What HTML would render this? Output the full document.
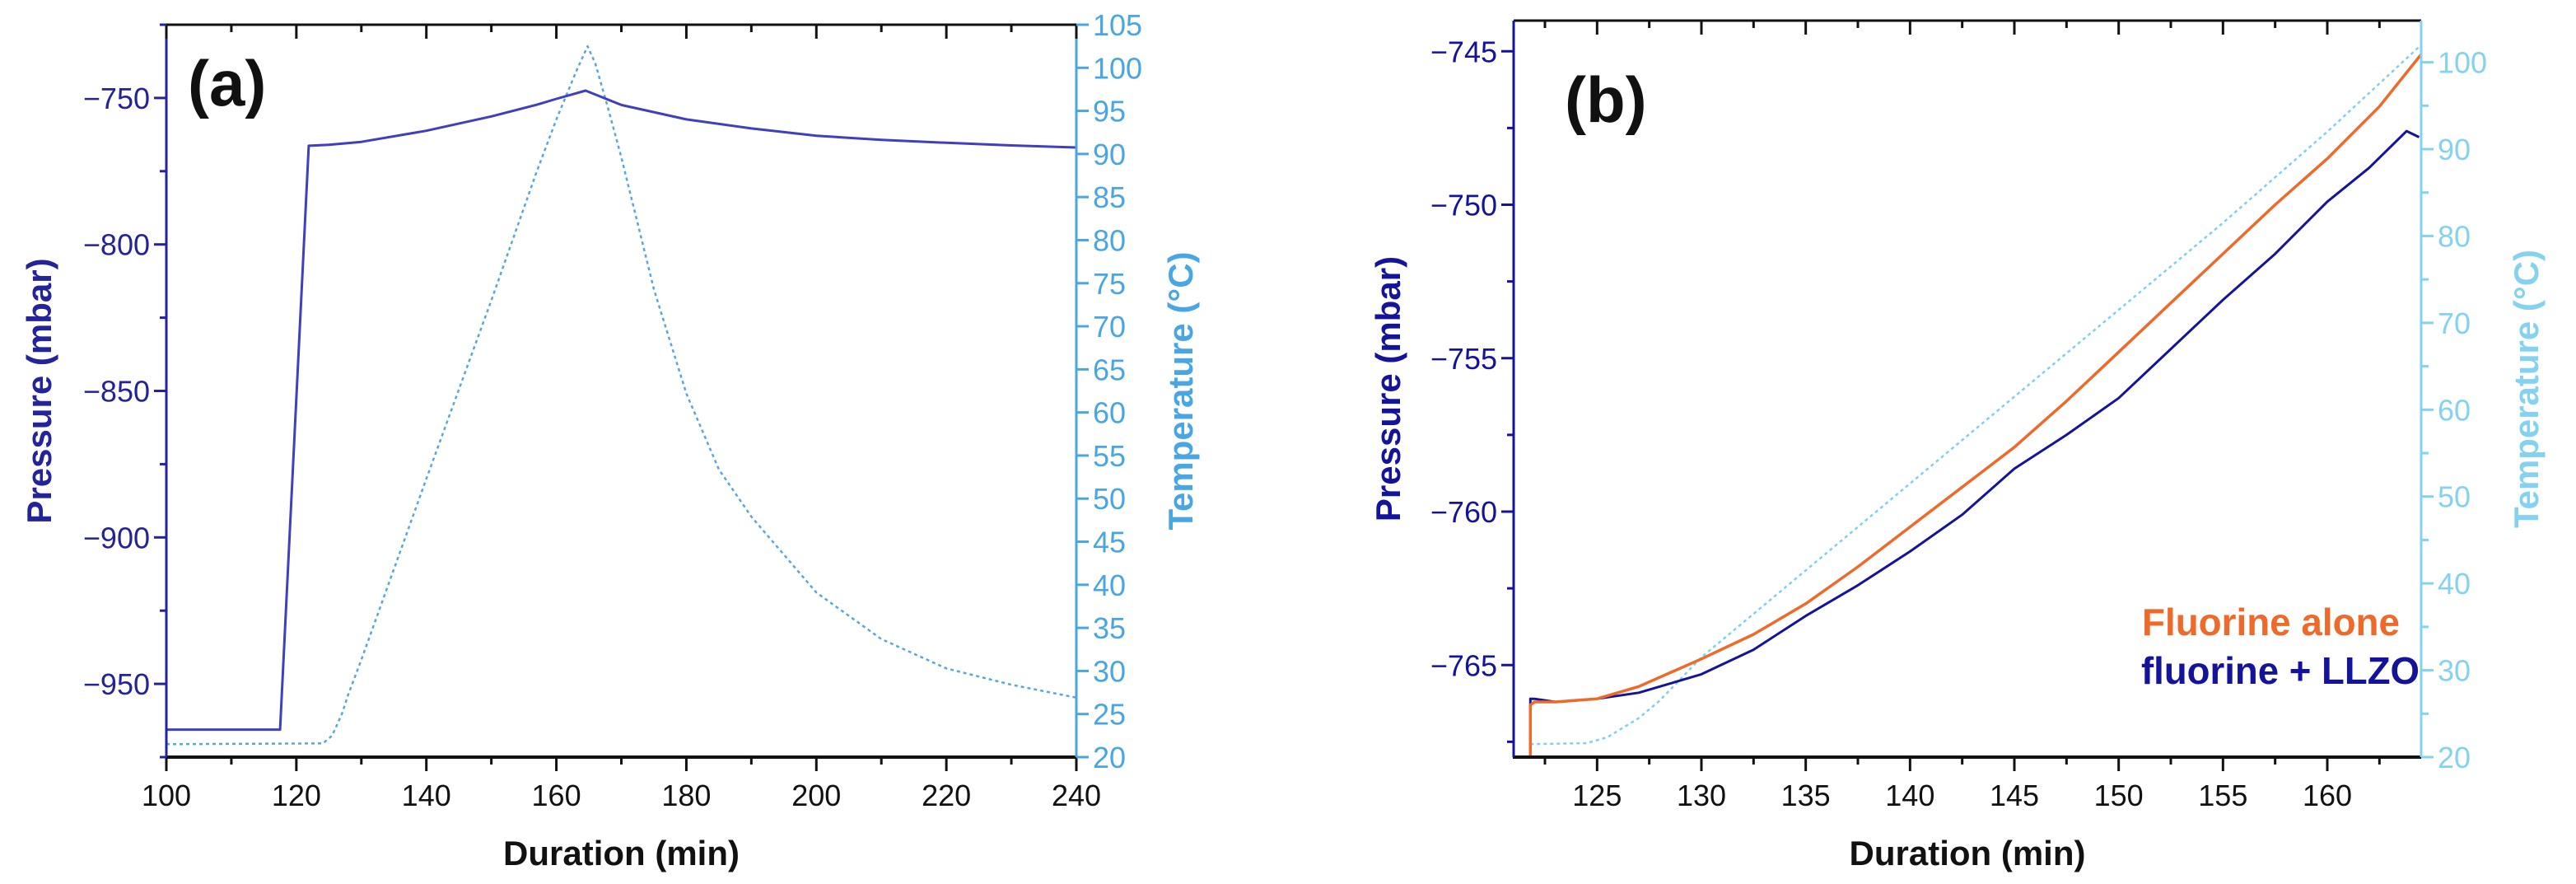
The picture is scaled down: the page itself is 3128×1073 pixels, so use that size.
<!DOCTYPE html>
<html><head><meta charset="utf-8"><style>
html,body{margin:0;padding:0;background:#fff}
svg{display:block}
text{font-family:"Liberation Sans",Arial,sans-serif}
</style></head><body>
<svg id="fig" width="3128" height="1073" viewBox="0 0 3128 1073" xmlns="http://www.w3.org/2000/svg">
<g id="pa"></g>
<g id="pb"></g>
</svg>
<script>
// Panel (a) data
const aPressX = [100,117.5,121.9,125,130,140,150,157,160,164.5,170,180,190,200,210,220,230,240];
const aPressY = [-965.6,-965.6,-766.3,-766,-765,-761.2,-756.3,-752.3,-750.3,-747.5,-752.4,-757.3,-760.4,-762.9,-764.3,-765.3,-766.2,-766.9];
const aTempX = [100,124.1,125.5,127,128,130,140,150,157,160,163,164.8,166,168,170,172.5,175,180,185,190,200,210,220,230,240];
const aTempY = [21.5,21.6,22.5,25,27.3,31.3,52.3,73,88,94,99.5,102.5,100.5,95.2,89.6,82,74.3,62.2,53.4,47.9,39.1,33.7,30.3,28.4,26.9];
const aXTicks = [100,120,140,160,180,200,220,240];
const aLTicks = [-950,-900,-850,-800,-750];
const aRTicks = [20,25,30,35,40,45,50,55,60,65,70,75,80,85,90,95,100,105];
// Panel (b) data
const bAloneX = [121.8,121.8,122,123,125,127,130,132.5,135,137.5,140,142.5,145,147.5,150,152.5,155,157.5,160,162.5,164.5];
const bAloneY = [-768,-766.3,-766.2,-766.2,-766.1,-765.7,-764.8,-764,-763,-761.8,-760.5,-759.2,-757.9,-756.4,-754.8,-753.2,-751.6,-750,-748.5,-746.8,-745.1];
const bLlzoX = [121.8,121.8,122,123,125,127,130,132.5,135,137.5,140,142.5,145,147.5,150,152.5,155,157.5,160,162,163.8,164.4];
const bLlzoY = [-768,-766.1,-766.1,-766.2,-766.1,-765.9,-765.3,-764.5,-763.4,-762.4,-761.3,-760.1,-758.6,-757.5,-756.3,-754.7,-753.1,-751.6,-749.9,-748.8,-747.6,-747.8];
const bTempX = [121.8,124.5,125.5,127,128,130,135,140,145,150,155,160,164.5];
const bTempY = [21.5,21.6,22.3,24.5,26.5,31.5,41.5,51.5,61.5,71.5,81.5,92,102];
const bXTicks = [125,130,135,140,145,150,155,160];
const bLTicks = [-765,-760,-755,-750,-745];
const bRTicks = [20,30,40,50,60,70,80,90,100];

const NS="http://www.w3.org/2000/svg";
function mk(parent,tag,attrs,txt){const e=document.createElementNS(NS,tag);for(const k in attrs)e.setAttribute(k,attrs[k]);if(txt!==undefined)e.textContent=txt;parent.appendChild(e);return e;}
function lin(d0,d1,r0,r1){return v=>r0+(v-d0)/(d1-d0)*(r1-r0);}
function fmt(v){return v<0?"\u2212"+Math.abs(v):String(v);}

function panel(g,cfg){
  const X=lin(cfg.xr[0],cfg.xr[1],cfg.L,cfg.R);
  const YL=lin(cfg.yl[0],cfg.yl[1],cfg.B,cfg.T);
  const YR=lin(cfg.yr[0],cfg.yr[1],cfg.B,cfg.T);
  cfg.series.forEach(s=>{
    const sc=s.axis==='r'?YR:YL;
    const pts=s.x.map((v,i)=>X(v).toFixed(1)+","+sc(s.y[i]).toFixed(1)).join(" ");
    const p=mk(g,'polyline',{points:pts,fill:'none',stroke:s.color,'stroke-width':s.w,'stroke-dasharray':s.dash||'none','stroke-linejoin':'round'});
    
    
  });
  let e=mk(g,'line',{x1:cfg.L,y1:cfg.T,x2:cfg.R,y2:cfg.T,stroke:'#111','stroke-width':3});
  
  e=mk(g,'line',{x1:cfg.L-1,y1:cfg.B,x2:cfg.R,y2:cfg.B,stroke:'#111','stroke-width':4});
  
  e=mk(g,'line',{x1:cfg.L,y1:cfg.T,x2:cfg.L,y2:cfg.B,stroke:cfg.lc,'stroke-width':3});
  
  e=mk(g,'line',{x1:cfg.R,y1:cfg.T,x2:cfg.R,y2:cfg.B,stroke:cfg.rc,'stroke-width':3});
  
  const xs=cfg.xTicks, xstep=xs[1]-xs[0];
  for(let v=xs[0]-xstep/2; v<=cfg.xr[1]; v+=xstep/2){
    if(v<cfg.xr[0])continue;
    const major=xs.includes(v);
    mk(g,'line',{x1:X(v),y1:cfg.B,x2:X(v),y2:cfg.B+(major?17:9),stroke:'#111','stroke-width':3});
    mk(g,'line',{x1:X(v),y1:cfg.T,x2:X(v),y2:cfg.T+(major?17:9),stroke:'#111','stroke-width':3});
  }
  xs.forEach(v=>{const t=mk(g,'text',{x:X(v),y:cfg.B+59,'font-size':36,'text-anchor':'middle',fill:'#111'},String(v));
    });
  const ls=cfg.lTicks, lstep=ls[1]-ls[0];
  for(let v=ls[0]-lstep; v<=cfg.yl[1]; v+=lstep/2){
    if(v<cfg.yl[0])continue;
    const major=ls.includes(v);
    mk(g,'line',{x1:cfg.L,y1:YL(v),x2:cfg.L-(major?15:8),y2:YL(v),stroke:cfg.lc,'stroke-width':3});
  }
  ls.forEach(v=>{const t=mk(g,'text',{x:cfg.L-20,y:YL(v)+13,'font-size':36,'text-anchor':'end',fill:cfg.lc},fmt(v));
    });
  const rs=cfg.rTicks, rstep=rs[1]-rs[0];
  for(let v=rs[0]; v<=cfg.yr[1]+0.01; v+=cfg.rMinor?rstep/2:rstep){
    const major=rs.includes(v);
    mk(g,'line',{x1:cfg.R,y1:YR(v),x2:cfg.R+(major?15:9),y2:YR(v),stroke:cfg.rc,'stroke-width':3});
  }
  rs.forEach(v=>{const t=mk(g,'text',{x:cfg.R+20,y:YR(v)+13,'font-size':36,'text-anchor':'start',fill:cfg.rc},String(v));
    });
  let t=mk(g,'text',{x:(cfg.L+cfg.R)/2,y:1050,'font-size':42,'font-weight':'bold','text-anchor':'middle',fill:'#111'},'Duration (min)');
  
  const cy=(cfg.T+cfg.B)/2;
  t=mk(g,'text',{x:cfg.plx,y:cy,'font-size':42,'font-weight':'bold','text-anchor':'middle',fill:cfg.lc,transform:`rotate(-90 ${cfg.plx} ${cy})`},'Pressure (mbar)');
  
  t=mk(g,'text',{x:cfg.prx,y:cy,'font-size':42,'font-weight':'bold','text-anchor':'middle',fill:cfg.rc,transform:`rotate(-90 ${cfg.prx} ${cy})`},'Temperature (\u00B0C)');
  
  t=mk(g,'text',{x:cfg.lab[0],y:cfg.lab[1],'font-size':78,'font-weight':'bold',fill:'#111'},cfg.label);
  
}

panel(document.getElementById('pa'),{
  L:202,R:1307,T:30,B:919,xr:[100,240],yl:[-975,-725],yr:[20,105],
  lc:'#23239a',rc:'#4aa6e2',xTicks:aXTicks,lTicks:aLTicks,rTicks:aRTicks,rMinor:false,
  plx:62,prx:1448,label:'(a)',lab:[228,128],
  series:[
    {name:'temperature-line-a',x:aTempX,y:aTempY,axis:'r',color:'#5aa6dc',w:2.5,dash:'4 4'},
    {name:'pressure-line-a',x:aPressX,y:aPressY,axis:'l',color:'#3f3fbf',w:3}
  ]});

panel(document.getElementById('pb'),{
  L:1838,R:2940,T:25,B:919,xr:[121,164.5],yl:[-768,-744],yr:[20,104.8],
  lc:'#14149a',rc:'#84d2ef',xTicks:bXTicks,lTicks:bLTicks,rTicks:bRTicks,rMinor:true,
  plx:1700,prx:3082,label:'(b)',lab:[1900,148],
  series:[
    {name:'temperature-line-b',x:bTempX,y:bTempY,axis:'r',color:'#7fcfee',w:2.5,dash:'4 4'},
    {name:'fluorine-llzo-line',x:bLlzoX,y:bLlzoY,axis:'l',color:'#14149a',w:3},
    {name:'fluorine-alone-line',x:bAloneX,y:bAloneY,axis:'l',color:'#ee6a2a',w:3.5}
  ]});

const pb=document.getElementById('pb');
let lg=mk(pb,'text',{x:2601,y:771,'font-size':46,'font-weight':'bold',fill:'#ee6a2a',textLength:313,lengthAdjust:'spacingAndGlyphs'},'Fluorine alone');


lg=mk(pb,'text',{x:2600,y:830,'font-size':46,'font-weight':'bold',fill:'#14149a',textLength:338,lengthAdjust:'spacingAndGlyphs'},'fluorine + LLZO');


</script>
</body></html>
